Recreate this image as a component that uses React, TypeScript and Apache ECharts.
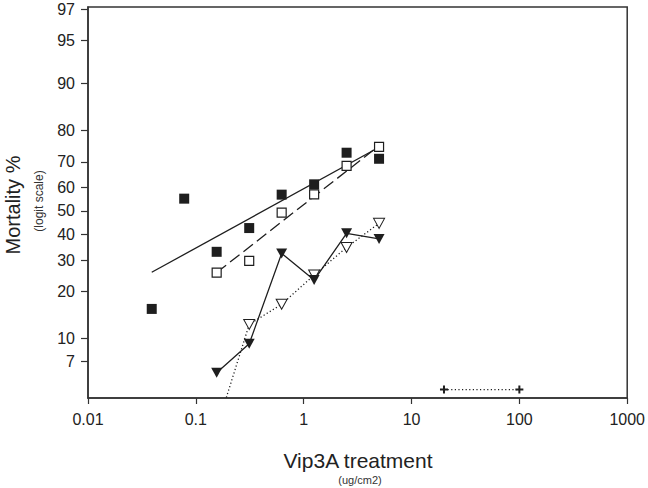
import React, { useEffect, useRef } from 'react';
import * as echarts from 'echarts';

// Doses (ug/cm2) and mortality (%)
const doses = [0.039, 0.078, 0.156, 0.3125, 0.625, 1.25, 2.5, 5];
const filledSquare = [15.6, 55.3, 33.1, 42.7, 57.0, 61.3, 73.2, 71.1];
const openSquareDoses = [0.156, 0.3125, 0.625, 1.25, 2.5, 5];
const openSquare = [25.7, 29.7, 49.3, 57.1, 68.5, 75.1];
const solidFitDoses = [0.039, 5];
const solidFit = [25.8, 75.0];
const dashedFitDoses = [0.156, 5];
const dashedFit = [25.7, 75.5];
const filledTriDoses = [0.156, 0.3125, 0.625, 1.25, 2.5, 5];
const filledTri = [5.8, 9.2, 32.5, 23.3, 40.5, 38.2];
const openTriDoses = [0.156, 0.3125, 0.625, 1.25, 2.5, 5];
const openTri = [2.3, 12.4, 16.7, 24.9, 34.8, 44.7];
const crossDoses = [20, 100];
const cross = [4.4, 4.4];
const yTicks = [7, 10, 20, 30, 40, 50, 60, 70, 80, 90, 95, 97];
const xTickLabels = ['0.01', '0.1', '1', '10', '100', '1000'];
const yMinPct = 3.83;
const yMaxPct = 97.1;

const FONT = '"Liberation Sans", Arial, sans-serif';
const INK = '#1e1e1e';

const logit = (p: number) => Math.log(p / (100 - p));
const Y_MIN = -3.224;
const Y_MAX = 3.517;

const pts = (xs: number[], ys: number[]) =>
  xs.map((x, i) => {
    const item: any = { value: [x, logit(ys[i])] };
    if (ys[i] < yMinPct || ys[i] > yMaxPct) item.symbol = 'none';
    return item;
  });

const PLUS = 'path://M3,0H5V3H8V5H5V8H3V5H0V3H3Z';

export default function App() {
  const ref = useRef<HTMLDivElement>(null);
  useEffect(() => {
    if (!ref.current) return;
    const chart = echarts.init(ref.current, undefined, { renderer: 'svg' });
    chart.setOption({
      animation: false,
      backgroundColor: '#ffffff',
      textStyle: { fontFamily: FONT },
      grid: {
        left: 88,
        right: 20,
        top: 7,
        bottom: 90,
        show: true,
        borderColor: '#333',
        borderWidth: 1.5,
        backgroundColor: 'transparent',
      },
      xAxis: {
        type: 'log',
        logBase: 10,
        min: 0.01,
        max: 1000,
        axisLine: { show: true, onZero: false, lineStyle: { color: '#333', width: 1.5 } },
        axisTick: { show: true, inside: false, length: 6, lineStyle: { color: '#333', width: 1.2 } },
        splitLine: { show: false },
        minorTick: { show: false },
        axisLabel: {
          margin: 13,
          fontSize: 16,
          color: '#222',
          fontFamily: FONT,
          formatter: (v: number) => xTickLabels[Math.round(Math.log10(v)) + 2],
        },
      },
      yAxis: {
        type: 'value',
        min: Y_MIN,
        max: Y_MAX,
        axisLine: { show: true, onZero: false, lineStyle: { color: '#333', width: 1.5 } },
        axisTick: {
          show: true,
          inside: false,
          length: 7,
          customValues: yTicks.map(logit),
          lineStyle: { color: '#333', width: 1.2 },
        },
        splitLine: { show: false },
        axisLabel: {
          margin: 13,
          fontSize: 16,
          color: '#222',
          fontFamily: FONT,
          customValues: yTicks.map(logit),
          formatter: (v: number) => String(Math.round(100 / (1 + Math.exp(-v)))),
        },
      },
      graphic: [
        {
          type: 'text',
          x: 13,
          y: 205,
          rotation: Math.PI / 2,
          style: {
            text: 'Mortality %',
            fontSize: 20,
            fontFamily: FONT,
            fill: '#222',
            textAlign: 'center',
            textVerticalAlign: 'middle',
          },
        },
        {
          type: 'text',
          x: 39,
          y: 201,
          rotation: Math.PI / 2,
          style: {
            text: '(logit scale)',
            fontSize: 12,
            fontFamily: FONT,
            fill: '#333',
            textAlign: 'center',
            textVerticalAlign: 'middle',
          },
        },
        {
          type: 'text',
          x: 358,
          y: 460,
          style: {
            text: 'Vip3A treatment',
            fontSize: 21,
            fontFamily: FONT,
            fill: '#222',
            textAlign: 'center',
            textVerticalAlign: 'middle',
          },
        },
        {
          type: 'text',
          x: 360,
          y: 480,
          style: {
            text: '(ug/cm2)',
            fontSize: 11,
            fontFamily: FONT,
            fill: '#333',
            textAlign: 'center',
            textVerticalAlign: 'middle',
          },
        },
      ],
      series: [
        {
          type: 'line',
          data: pts(solidFitDoses, solidFit),
          showSymbol: false,
          symbol: 'none',
          lineStyle: { color: INK, width: 1.3, type: 'solid' },
          z: 2,
        },
        {
          type: 'line',
          data: pts(dashedFitDoses, dashedFit),
          showSymbol: false,
          symbol: 'none',
          lineStyle: { color: INK, width: 1.3, type: [12, 5] },
          z: 2,
        },
        {
          type: 'line',
          data: pts(openTriDoses, openTri),
          clip: true,
          symbol: 'triangle',
          symbolRotate: 180,
          symbolSize: [11, 10],
          itemStyle: { color: '#fff', borderColor: INK, borderWidth: 1, opacity: 1 },
          lineStyle: { color: INK, width: 1.3, type: [1.2, 2.4] },
          z: 3,
        },
        {
          type: 'line',
          data: pts(filledTriDoses, filledTri),
          clip: true,
          symbol: 'triangle',
          symbolRotate: 180,
          symbolSize: [11, 10],
          itemStyle: { color: INK, borderColor: INK, borderWidth: 0, opacity: 1 },
          lineStyle: { color: INK, width: 1.3, type: 'solid' },
          z: 4,
        },
        {
          type: 'line',
          data: pts(crossDoses, cross),
          clip: true,
          symbol: PLUS,
          symbolSize: 8,
          itemStyle: { color: INK, borderWidth: 0, opacity: 1 },
          lineStyle: { color: INK, width: 1.3, type: [1.2, 2.4] },
          z: 4,
        },
        {
          type: 'scatter',
          data: pts(openSquareDoses, openSquare),
          symbol: 'rect',
          symbolSize: 9,
          itemStyle: { color: '#fff', borderColor: INK, borderWidth: 1.2, opacity: 1 },
          z: 5,
        },
        {
          type: 'scatter',
          data: pts(doses, filledSquare),
          symbol: 'rect',
          symbolSize: 10,
          itemStyle: { color: INK, opacity: 1 },
          z: 5,
        },
      ],
    });
    return () => chart.dispose();
  }, []);
  return (
    <div
      ref={ref}
      style={{ position: 'absolute', left: 0, top: 0, width: 648, height: 488, background: '#fff' }}
    />
  );
}
